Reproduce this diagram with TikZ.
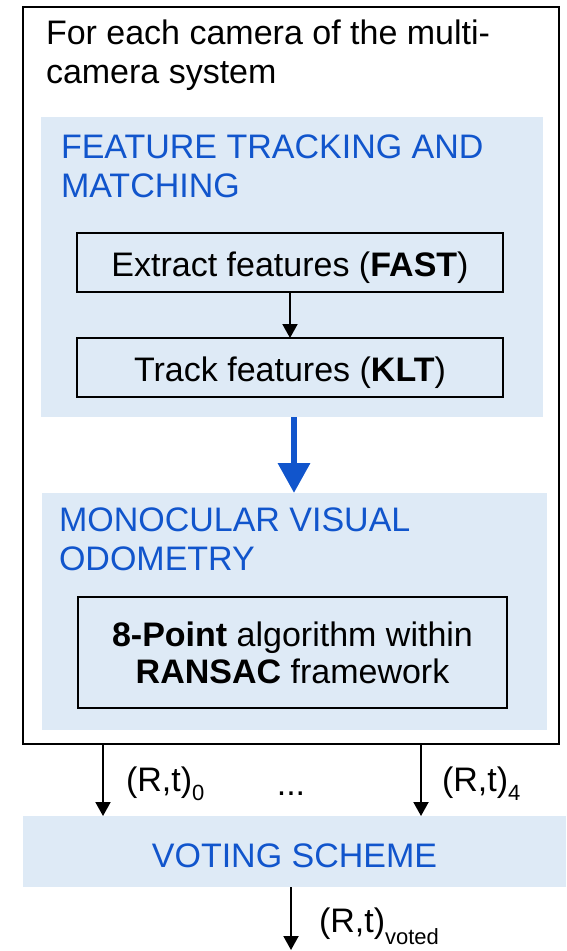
\documentclass[tikz,border=0pt]{standalone}
\usepackage{fontspec}
\setmainfont{Liberation Sans}
\usetikzlibrary{arrows.meta}
\definecolor{bluetext}{RGB}{17,85,204}
\definecolor{panel}{RGB}{222,234,246}
\newcommand{\mysub}[2][9pt]{\raisebox{-#1}{\fontsize{22}{22}\selectfont #2}}
\begin{document}
\begin{tikzpicture}[x=1pt,y=-1pt,
  every node/.style={inner sep=0pt, outer sep=0pt},
  big/.style={font=\fontsize{34}{39}\selectfont},
  panelbox/.style={fill=panel, anchor=north west},
  stepbox/.style={draw, line width=2pt, anchor=north west},
  arr/.style={line width=2pt, -{Triangle[length=14pt,width=15pt]}},
  bluearr/.style={draw=bluetext, fill=bluetext, line width=6.5pt, -{Triangle[length=30pt,width=31pt]}}
]
\useasboundingbox (0,0) rectangle (566,951);

% outer frame
\node[draw, line width=2pt, anchor=north west, minimum width=536pt, minimum height=737pt] (outer) at (23,7) {};
\node[big, align=left, anchor=base west] (title) at (46,83) {For each camera of the multi-\\camera system};

% panels
\node[panelbox, minimum width=502pt, minimum height=300pt] (ftm) at (41,117) {};
\node[big, align=left, anchor=base west, text=bluetext] (ftmt) at (61,197) {FEATURE TRACKING AND\\MATCHING};
\node[panelbox, minimum width=505pt, minimum height=237pt] (mvo) at (42,493) {};
\node[big, align=left, anchor=base west, text=bluetext] (mvot) at (59,570) {MONOCULAR VISUAL\\ODOMETRY};

% step boxes
\node[stepbox, big, minimum width=426pt, text height=43pt, text depth=16pt] (ext) at (77,233) {Extract features (\textbf{FAST})};
\node[stepbox, big, minimum width=426pt, text height=43pt, text depth=16pt] (trk) at (77,338) {Track features (\textbf{KLT})};
\node[stepbox, minimum width=429pt, minimum height=111pt, align=center, font=\fontsize{34}{37}\selectfont] (ransac) at (78,597) {\textbf{8-Point} algorithm within\\\textbf{RANSAC} framework};

\draw[arr] (ext.south) -- (trk.north);
\coordinate (ba) at (294,0);
\draw[bluearr] (ftm.south -| ba) -- (mvo.north -| ba);

% voting
\node[panelbox, big, minimum width=543pt, text height=51pt, text depth=20pt, text=bluetext] (vote) at (23,816) {VOTING SCHEME};

\coordinate (c0) at (103,0);
\coordinate (c4) at (421,0);
\coordinate (cv) at (291,950);
\draw[arr] (outer.south -| c0) -- (vote.north -| c0);
\draw[arr] (outer.south -| c4) -- (vote.north -| c4);
\draw[arr] (vote.south -| cv) -- (cv);

\node[big, anchor=base west] (l0) at (126,791) {(R,t)\mysub{0}};
\node[big, anchor=base] (dots) at (291,795) {...};
\node[big, anchor=base west] (l4) at (442,791) {(R,t)\mysub{4}};
\node[big, anchor=base west] (lv) at (319,932) {(R,t)\mysub[12pt]{voted}};
\end{tikzpicture}
\end{document}
